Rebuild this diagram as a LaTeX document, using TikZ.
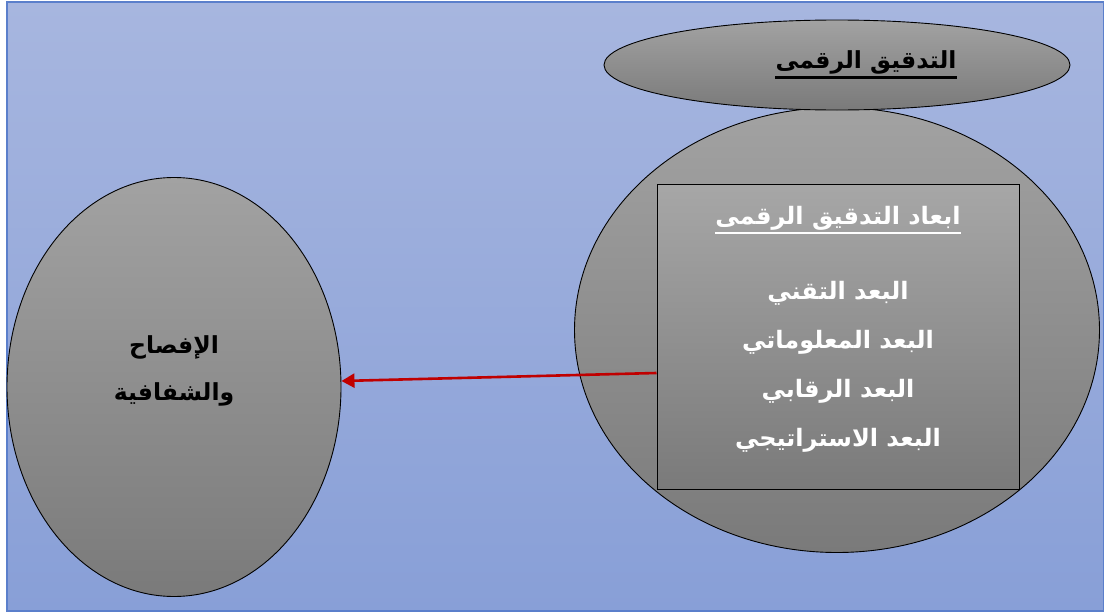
\documentclass[tikz,border=0pt]{standalone}
\usepackage{fontspec}
\usetikzlibrary{shapes.geometric,arrows.meta}
\TeXXeTstate=1
\newfontfamily\arabicfont[Script=Arabic]{DejaVu Sans}
\definecolor{bgtop}{HTML}{A7B6DF}
\definecolor{bgbot}{HTML}{889FD7}
\definecolor{bgline}{HTML}{5B7FCB}
\definecolor{grtop}{HTML}{A2A2A2}
\definecolor{grbot}{HTML}{7A7A7A}
\definecolor{arrowred}{HTML}{C00000}
\tikzset{
  oval/.style={ellipse, draw=black, line width=0.9pt, inner sep=0pt, top color=grtop, bottom color=grbot},
  boxrect/.style={rectangle, draw=black, line width=1pt, inner sep=0pt, top color=grtop!95!white, bottom color=grbot},
  blacktxt/.style={inner sep=0pt, font=\arabicfont\bfseries\fontsize{23.5}{26}\selectfont, text=black},
  whitetxt/.style={inner sep=0pt, font=\arabicfont\bfseries\fontsize{24}{26}\selectfont, text=white},
  link/.style={draw=arrowred, line width=2.6pt, -{Triangle[length=13pt,width=14pt]}},
}
\begin{document}
\begin{tikzpicture}[x=1pt,y=-1pt]
\useasboundingbox (0,0) rectangle (1104,613);
\fill[white] (0,0) rectangle (1104,613);
\shade[top color=bgtop, bottom color=bgbot] (7,2) rectangle (1104,611);
\draw[bgline, line width=1.2pt] (7,2) rectangle (1104,611);

\node[oval, minimum width=334pt, minimum height=419pt] (left) at (174,387) {};
\node[oval, minimum width=525pt, minimum height=445pt] (big) at (837,330) {};
\node[oval, minimum width=466pt, minimum height=90pt] (top) at (837,65) {};
\node[boxrect, minimum width=362pt, minimum height=305pt] (box) at (838,336.5) {};

\node[blacktxt] (toptxt) at (866,62) {\beginR التدقيق الرقمى\endR};
\draw[black, line width=3pt] ([yshift=-3pt]toptxt.south west) -- ([yshift=-3pt]toptxt.south east);

\node[whitetxt] (title) at (838,218) {\beginR ابعاد التدقيق الرقمى\endR};
\draw[white, line width=2.4pt] ([yshift=-3pt]title.south west) -- ([yshift=-3pt]title.south east);

\node[whitetxt] (d1) at (838,293) {\beginR البعد التقني\endR};
\node[whitetxt] (d2) at (838,342) {\beginR البعد المعلوماتي\endR};
\node[whitetxt] (d3) at (838,391) {\beginR البعد الرقابي\endR};
\node[whitetxt] (d4) at (838,440) {\beginR البعد الاستراتيجي\endR};

\node[blacktxt] (l1) at (174,347) {\beginR الإفصاح\endR};
\node[blacktxt] (l2) at (174,394) {\beginR والشفافية\endR};

\draw[link] (box.west |- 0,373) -- (left.east |- 0,381);
\end{tikzpicture}
\end{document}
